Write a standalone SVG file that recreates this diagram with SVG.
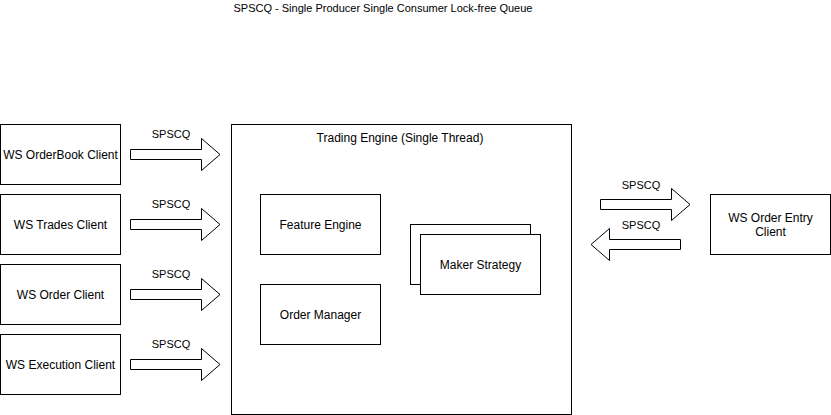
<svg xmlns="http://www.w3.org/2000/svg" width="831" height="415" viewBox="0 0 831 415">
<style>
.box{fill:#fff;stroke:#000;stroke-width:1}
.arr{fill:#fff;stroke:#000;stroke-width:1;stroke-linejoin:miter}
.t{font-family:"Liberation Sans",Arial,sans-serif;font-size:12px;fill:#000;text-anchor:middle}
.s{font-family:"Liberation Sans",Arial,sans-serif;font-size:11px;fill:#000;text-anchor:middle}
</style>
<defs>
<path id="ra" d="M0,-5 H71 V-16 L89.5,0 L71,16 V5 H0 Z"/>
</defs>
<rect width="831" height="415" fill="#fff"/>
<text class="s" x="383" y="12">SPSCQ - Single Producer Single Consumer Lock-free Queue</text>

<g id="ws-orderbook"><rect class="box" x="0.5" y="124.5" width="120" height="60"/><text class="t" x="60.5" y="158.5">WS OrderBook Client</text></g>
<g id="ws-trades"><rect class="box" x="0.5" y="194.5" width="120" height="60"/><text class="t" x="60.5" y="228.5">WS Trades Client</text></g>
<g id="ws-order"><rect class="box" x="0.5" y="264.5" width="120" height="60"/><text class="t" x="60.5" y="298.5">WS Order Client</text></g>
<g id="ws-execution"><rect class="box" x="0.5" y="334.5" width="120" height="60"/><text class="t" x="60.5" y="368.5">WS Execution Client</text></g>

<g id="trading-engine"><rect class="box" x="231.5" y="124.5" width="340" height="290"/><text class="t" x="400" y="142">Trading Engine (Single Thread)</text></g>
<g id="feature-engine"><rect class="box" x="260.5" y="194.5" width="120" height="60"/><text class="t" x="320.5" y="228.5">Feature Engine</text></g>
<g id="order-manager"><rect class="box" x="260.5" y="284.5" width="120" height="60"/><text class="t" x="320.5" y="318.5">Order Manager</text></g>
<g id="maker-strategy"><rect class="box" x="410.5" y="224.5" width="120" height="60"/><rect class="box" x="420.5" y="234.5" width="120" height="60"/><text class="t" x="480.5" y="268.5">Maker Strategy</text></g>

<g id="ws-order-entry"><rect class="box" x="710.5" y="194.5" width="120" height="60"/><text class="t" x="770.5" y="221.5">WS Order Entry</text><text class="t" x="770.5" y="235.5">Client</text></g>

<g id="connectors">
<use href="#ra" class="arr" transform="translate(130.5,154.5)"/>
<use href="#ra" class="arr" transform="translate(130.5,224.5)"/>
<use href="#ra" class="arr" transform="translate(130.5,294.5)"/>
<use href="#ra" class="arr" transform="translate(130.5,364.5)"/>
<use href="#ra" class="arr" transform="translate(600.5,204.5)"/>
<use href="#ra" class="arr" transform="translate(680.5,244.5) scale(-1,1)"/>
<text class="s" x="171" y="138">SPSCQ</text>
<text class="s" x="171" y="208">SPSCQ</text>
<text class="s" x="171" y="278">SPSCQ</text>
<text class="s" x="171" y="348">SPSCQ</text>
<text class="s" x="641" y="189">SPSCQ</text>
<text class="s" x="641" y="229">SPSCQ</text>
</g>
</svg>
